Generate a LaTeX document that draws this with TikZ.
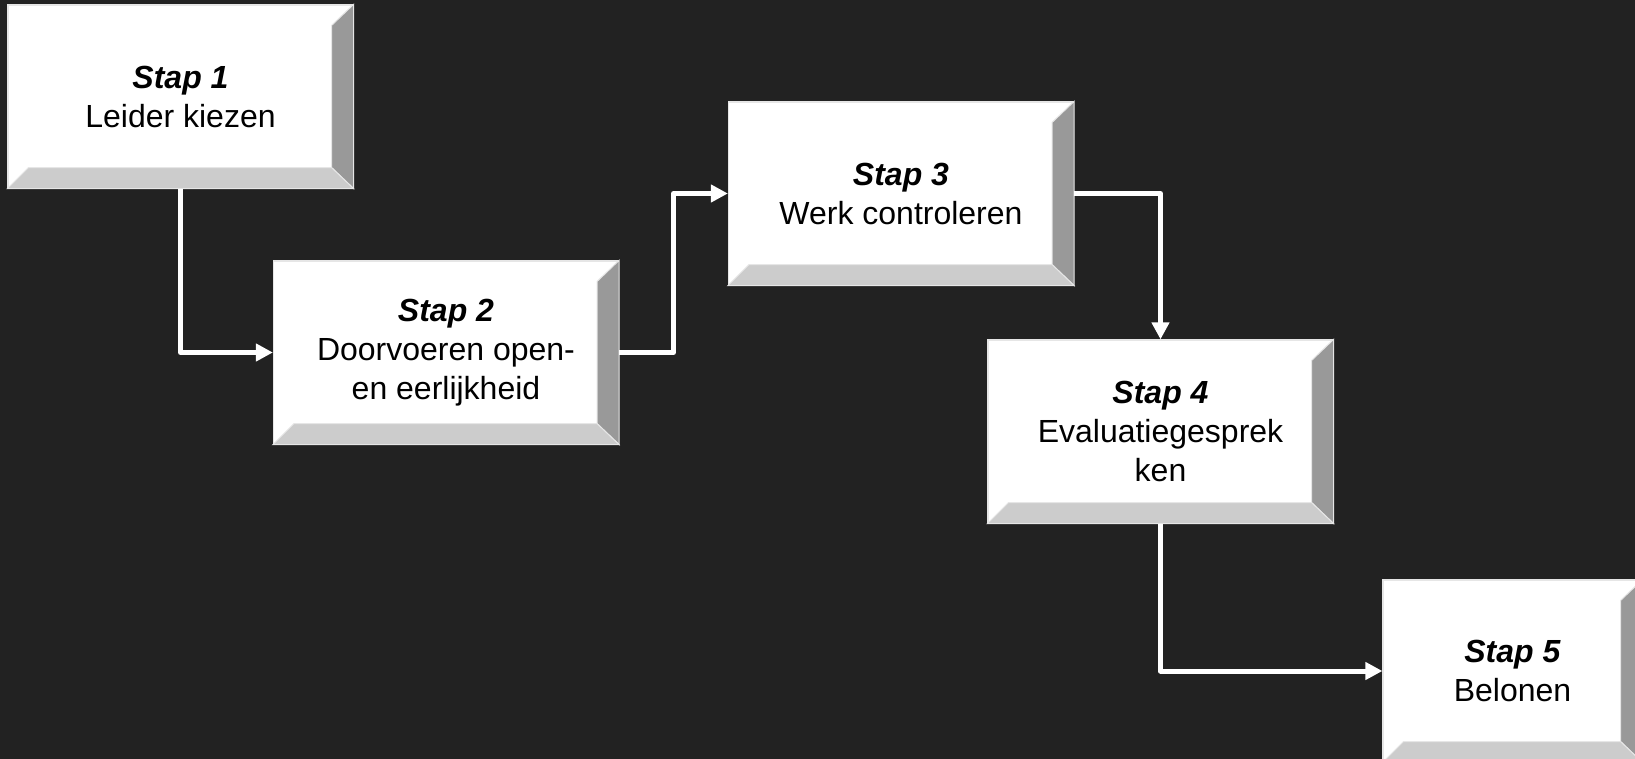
\documentclass[tikz,border=0pt]{standalone}
\usepackage{fontspec}
\setmainfont{Liberation Sans}
\usetikzlibrary{arrows.meta,calc}
\definecolor{bgdark}{HTML}{222222}
\definecolor{facebottom}{HTML}{CCCCCC}
\definecolor{faceright}{HTML}{999999}
\definecolor{boxedge}{HTML}{E6E6E6}
\tikzset{
	stepbox/.style={draw=boxedge, line width=0.6pt, fill=white, minimum width=172.5pt, minimum height=91.5pt, inner sep=0pt, align=center, font=\fontsize{16}{19.5}\selectfont},
	flow/.style={draw=white, line width=2.5pt, line join=round, -{Triangle[length=8.5pt,width=8.5pt]}},
	bevel/.style={draw=boxedge, line width=0.5pt}
}
\newcommand{\stap}[1]{\textbf{\textit{Stap #1}}}

\begin{document}
\begin{tikzpicture}[x=0.5pt, y=-0.5pt]
	\fill[bgdark] (0,0) rectangle (1635,759);
	\useasboundingbox (0,0) rectangle (1635,759);
	\clip (0,0) rectangle (1635,759);
	\node[stepbox] (s1) at (180.5,96.5) {\stap{1}\\Leider kiezen};
	\node[stepbox] (s2) at (446,352.5) {\stap{2}\\Doorvoeren open-\\en eerlijkheid};
	\node[stepbox] (s3) at (901,193.5) {\stap{3}\\Werk controleren};
	\node[stepbox] (s4) at (1160.5,431.5) {\stap{4}\\Evaluatiegesprek\\ken};
	\node[stepbox, minimum width=129.5pt, minimum height=91pt] (s5) at (1512.5,671) {\stap{5}\\Belonen};
	\foreach \n in {s1,s2,s3,s4,s5} {
		\filldraw[bevel, fill=faceright] (\n.north east) -- ++(-22,21) -- ($(\n.south east)+(-22,-21)$) -- (\n.south east) -- cycle;
		\filldraw[bevel, fill=facebottom] (\n.south west) -- ++(21,-21) -- ($(\n.south east)+(-22,-21)$) -- (\n.south east) -- cycle;
	}
	\coordinate (m23) at ($(s2.east)!0.5!(s3.west)$);
	\draw[flow] (s1.south) |- (s2.west);
	\draw[flow] (s2.east) -| (m23) |- (s3.west);
	\draw[flow] (s3.east) -| (s4.north);
	\draw[flow] (s4.south) |- (s5.west);
\end{tikzpicture}
\end{document}
